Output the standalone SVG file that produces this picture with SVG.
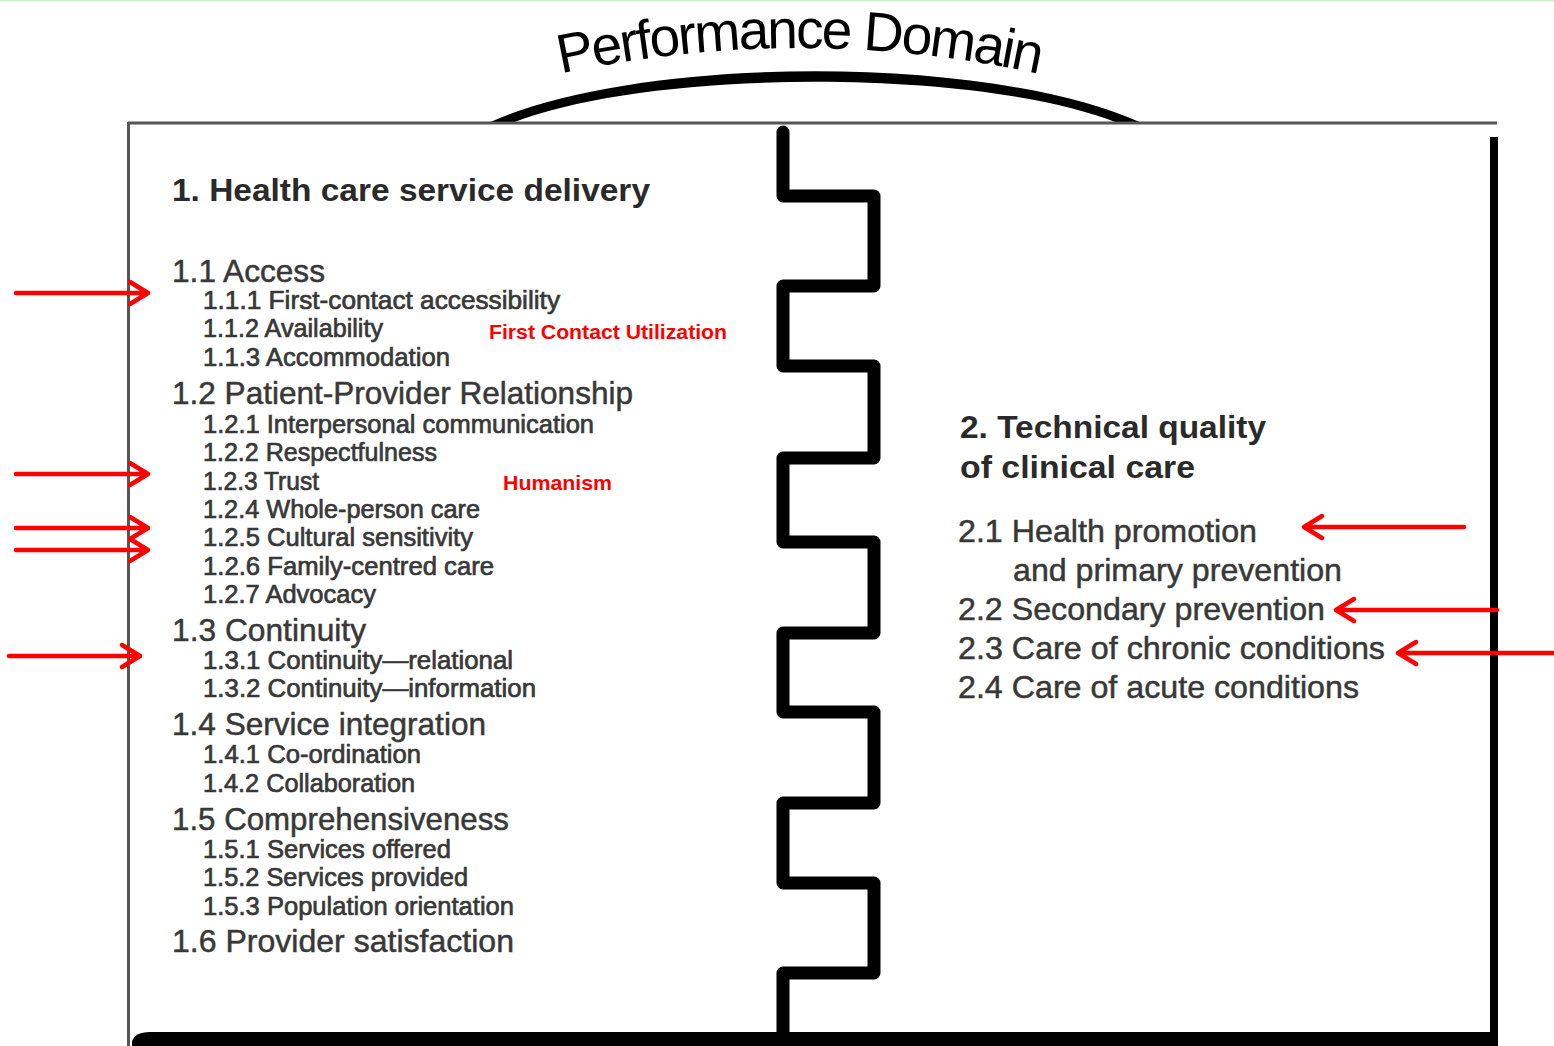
<svg xmlns="http://www.w3.org/2000/svg" width="1554" height="1046" viewBox="0 0 1554 1046">
  <defs>
    <style>
      .t { font-family: "Liberation Sans", Arial, Helvetica, sans-serif; fill: #383838; }
      .h { font-weight: bold; font-size: 31px; fill: #2a2a2a; }
      .s { font-size: 32px; stroke: #383838; stroke-width: 0.5; }
      .ss { font-size: 26px; stroke: #383838; stroke-width: 0.7; }
      .red { font-family: "Liberation Sans", Arial, sans-serif; font-weight: bold; font-size: 21px; fill: #ff0000; }
      .arrow { stroke: #ff0000; stroke-width: 4.5; fill: none; stroke-linecap: round; stroke-linejoin: round; }
      .jig { stroke: #000; stroke-width: 13; fill: none; stroke-linejoin: round; stroke-linecap: round; }
    </style>
    <path id="titleCurve" d="M 550,76 Q 800,20 1048,76"/>
  </defs>

  <rect width="1554" height="1046" fill="#ffffff"/>
  <line x1="0" y1="0.5" x2="1554" y2="0.5" stroke="#d3ebcd" stroke-width="2"/>

  <!-- Title arc and curved heading -->
  <g id="title">
    <path d="M 488,123 C 640,54 990,54 1142,123 L 1118,123 C 980,68 650,68 512,123 Z" fill="#000"/>
    <text font-family="'Liberation Sans', Arial, Helvetica, sans-serif" font-size="55" letter-spacing="-2.2" fill="#000">
      <textPath href="#titleCurve" startOffset="50%" text-anchor="middle">Performance Domain</textPath>
    </text>
  </g>

  <!-- Outer frame -->
  <g id="frame">
    <line x1="128" y1="123" x2="1497" y2="123" stroke="#555" stroke-width="3"/>
    <line x1="128.5" y1="122" x2="128.5" y2="1046" stroke="#555" stroke-width="3"/>
    <path d="M 1494,137 L 1494,1046" stroke="#000" stroke-width="8"/>
    <path d="M 132,1046 L 132,1042 Q 134,1032 150,1032 L 1498,1032 L 1498,1046 Z" fill="#000"/>
  </g>

  <!-- Puzzle-piece divider between the two domains -->
  <g id="divider">
    <path class="jig" d="M 783,132 L 783,196 L 874,196 L 874,286 L 783,286 L 783,366 L 874,366 L 874,458 L 783,458 L 783,542 L 874,542 L 874,633 L 783,633 L 783,712 L 874,712 L 874,803 L 783,803 L 783,883 L 874,883 L 874,973 L 783,973 L 783,1040"/>
  </g>

  <!-- Domain 1 -->
  <g id="domain1" class="t">
    <text class="h" x="172" y="201" textLength="478" lengthAdjust="spacingAndGlyphs">1. Health care service delivery</text>
    <text class="s" x="172" y="282" textLength="153" lengthAdjust="spacingAndGlyphs">1.1 Access</text>
    <text class="ss" x="203" y="309" textLength="357" lengthAdjust="spacingAndGlyphs">1.1.1 First-contact accessibility</text>
    <text class="ss" x="203" y="337" textLength="180" lengthAdjust="spacingAndGlyphs">1.1.2 Availability</text>
    <text class="ss" x="203" y="366" textLength="247" lengthAdjust="spacingAndGlyphs">1.1.3 Accommodation</text>
    <text class="s" x="172" y="404" textLength="461" lengthAdjust="spacingAndGlyphs">1.2 Patient-Provider Relationship</text>
    <text class="ss" x="203" y="433" textLength="391" lengthAdjust="spacingAndGlyphs">1.2.1 Interpersonal communication</text>
    <text class="ss" x="203" y="461" textLength="234" lengthAdjust="spacingAndGlyphs">1.2.2 Respectfulness</text>
    <text class="ss" x="203" y="490" textLength="116" lengthAdjust="spacingAndGlyphs">1.2.3 Trust</text>
    <text class="ss" x="203" y="518" textLength="277" lengthAdjust="spacingAndGlyphs">1.2.4 Whole-person care</text>
    <text class="ss" x="203" y="546" textLength="270" lengthAdjust="spacingAndGlyphs">1.2.5 Cultural  sensitivity</text>
    <text class="ss" x="203" y="575" textLength="291" lengthAdjust="spacingAndGlyphs">1.2.6 Family-centred care</text>
    <text class="ss" x="203" y="603" textLength="173" lengthAdjust="spacingAndGlyphs">1.2.7 Advocacy</text>
    <text class="s" x="172" y="641" textLength="194" lengthAdjust="spacingAndGlyphs">1.3 Continuity</text>
    <text class="ss" x="203" y="669" textLength="310" lengthAdjust="spacingAndGlyphs">1.3.1 Continuity—relational</text>
    <text class="ss" x="203" y="697" textLength="333" lengthAdjust="spacingAndGlyphs">1.3.2 Continuity—information</text>
    <text class="s" x="172" y="735" textLength="314" lengthAdjust="spacingAndGlyphs">1.4 Service integration</text>
    <text class="ss" x="203" y="763" textLength="218" lengthAdjust="spacingAndGlyphs">1.4.1 Co-ordination</text>
    <text class="ss" x="203" y="792" textLength="212" lengthAdjust="spacingAndGlyphs">1.4.2 Collaboration</text>
    <text class="s" x="172" y="830" textLength="337" lengthAdjust="spacingAndGlyphs">1.5 Comprehensiveness</text>
    <text class="ss" x="203" y="858" textLength="248" lengthAdjust="spacingAndGlyphs">1.5.1 Services  offered</text>
    <text class="ss" x="203" y="886" textLength="265" lengthAdjust="spacingAndGlyphs">1.5.2 Services provided</text>
    <text class="ss" x="203" y="915" textLength="311" lengthAdjust="spacingAndGlyphs">1.5.3 Population orientation</text>
    <text class="s" x="172" y="952" textLength="342" lengthAdjust="spacingAndGlyphs">1.6 Provider satisfaction</text>
  </g>

  <!-- Domain 2 -->
  <g id="domain2" class="t">
    <text class="h" x="960" y="438" textLength="306" lengthAdjust="spacingAndGlyphs">2. Technical quality</text>
    <text class="h" x="960" y="478" textLength="235" lengthAdjust="spacingAndGlyphs">of clinical care</text>
    <text class="s" x="958" y="542" textLength="299" lengthAdjust="spacingAndGlyphs">2.1 Health promotion</text>
    <text class="s" x="1013" y="581" textLength="329" lengthAdjust="spacingAndGlyphs">and primary prevention</text>
    <text class="s" x="958" y="620" textLength="367" lengthAdjust="spacingAndGlyphs">2.2 Secondary prevention</text>
    <text class="s" x="958" y="659" textLength="427" lengthAdjust="spacingAndGlyphs">2.3 Care of chronic conditions</text>
    <text class="s" x="958" y="698" textLength="401" lengthAdjust="spacingAndGlyphs">2.4 Care of acute conditions</text>
  </g>

  <!-- Annotation labels -->
  <g id="labels">
    <text class="red" x="489" y="339" textLength="238" lengthAdjust="spacingAndGlyphs">First Contact Utilization</text>
    <text class="red" x="503" y="490" textLength="109" lengthAdjust="spacingAndGlyphs">Humanism</text>
  </g>

  <!-- Pointer arrows -->
  <g id="connectors">
    <path class="arrow" d="M 16,293 L 148,293 M 130,282 L 148,293 L 130,304"/>
    <path class="arrow" d="M 16,474 L 148,474 M 130,463 L 148,474 L 130,485"/>
    <path class="arrow" d="M 16,528 L 148,528 M 130,517 L 148,528 L 130,539"/>
    <path class="arrow" d="M 16,550 L 148,550 M 130,539 L 148,550 L 130,561"/>
    <path class="arrow" d="M 9,656 L 140,656 M 122,645 L 140,656 L 122,667"/>
    <path class="arrow" d="M 1464,527 L 1304,527 M 1322,516 L 1304,527 L 1322,538"/>
    <path class="arrow" d="M 1497,610 L 1336,610 M 1354,599 L 1336,610 L 1354,621"/>
    <path class="arrow" d="M 1556,653 L 1398,653 M 1416,642 L 1398,653 L 1416,664"/>
  </g>
</svg>
